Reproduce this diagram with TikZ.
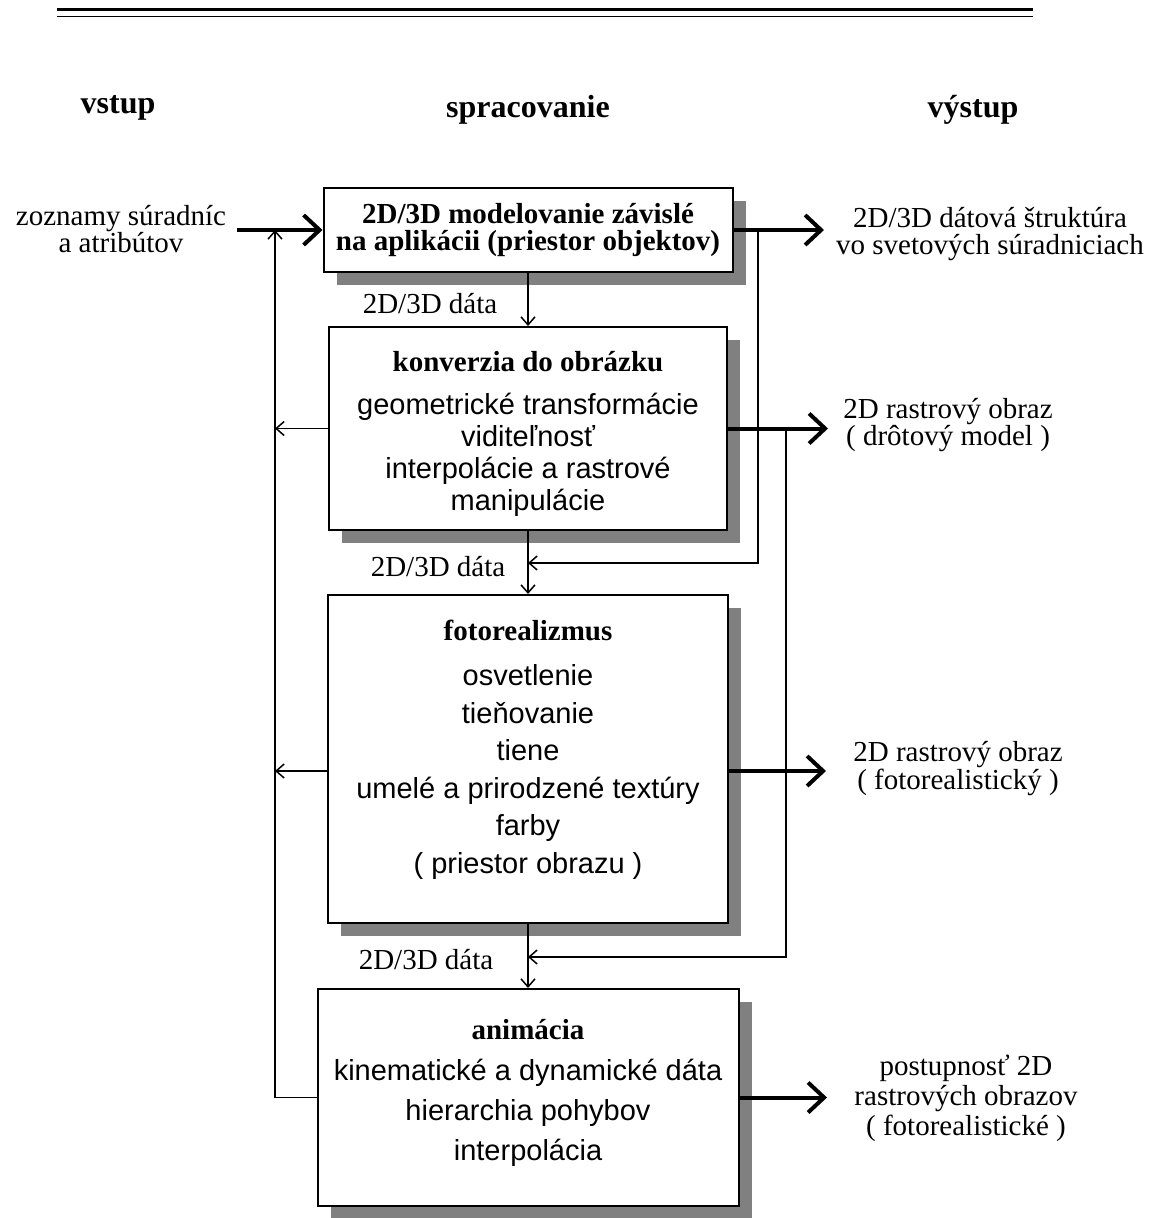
\documentclass[tikz,border=0pt]{standalone}
\usepackage{fontspec}
\setmainfont{Liberation Serif}
\setsansfont{Liberation Sans}
\usetikzlibrary{arrows.meta,shadows,calc}
\begin{document}
\begin{tikzpicture}[x=1pt,y=-1pt,
  box/.style={draw, line width=2pt, fill=white, inner sep=0pt,
    general shadow={fill=black!50, shadow xshift=13pt, shadow yshift=-13pt}},
  boxtitle/.style={font=\bfseries\fontsize{29}{27}\selectfont, inner sep=0pt, align=center},
  boxbody/.style={font=\sffamily\fontsize{29}{#1}\selectfont, inner sep=0pt, align=center},
  heading/.style={font=\bfseries\fontsize{32}{34}\selectfont, inner sep=0pt},
  txt/.style={font=\fontsize{29}{#1}\selectfont, inner sep=0pt, align=center},
  bigarrow/.style={line width=4pt, -{Straight Barb[length=16pt,width=30pt]}},
  smallarrow/.style={line width=1.5pt, -{Straight Barb[length=8pt,width=14pt]}}
]
\fill[white] (0,0) rectangle (1156,1218);
\useasboundingbox (0,0) rectangle (1156,1218);

% double rule across the top
\draw[line width=3pt] (57,9.5) -- (1033,9.5);
\draw[line width=1.5pt] (57,16.5) -- (1033,16.5);

% column headings
\node[heading] (hin) at (118,108) {vstup};
\node[heading] (hproc) at (528,110) {spracovanie};
\node[heading] (hout) at (973,110) {výstup};

% processing stages
\node[box, boxtitle, minimum width=409pt, minimum height=84pt] (box1) at (528,230)
  {2D/3D modelovanie závislé\\na aplikácii (priestor objektov)};

\node[box, minimum width=398pt, minimum height=203pt] (box2) at (528,428.5) {};
\node[boxtitle] (t2) at (528,362) {konverzia do obrázku};
\node[boxbody=32] (b2) at (528,455)
  {geometrické transformácie\\viditeľnosť\\interpolácie a rastrové\\manipulácie};

\node[box, minimum width=400pt, minimum height=328pt] (box3) at (528,759) {};
\node[boxtitle] (t3) at (528,630) {fotorealizmus};
\node[boxbody=37.6] (b3) at (528,772)
  {osvetlenie\\tieňovanie\\tiene\\umelé a prirodzené textúry\\farby\\( priestor obrazu )};

\node[box, minimum width=421pt, minimum height=217pt] (box4) at (528,1097.5) {};
\node[boxtitle] (t4) at (528,1030) {animácia};
\node[boxbody=40] (b4) at (528,1113)
  {kinematické a dynamické dáta\\hierarchia pohybov\\interpolácia};

% input and outputs
\node[txt=26] (inp) at (121,229) {zoznamy súradníc\\a atribútov};
\node[txt=27] (o1) at (990,234) {2D/3D dátová štruktúra\\vo svetových súradniciach};
\node[txt=27] (o2) at (948,425) {2D rastrový obraz\\( drôtový model )};
\node[txt=28] (o3) at (958,769) {2D rastrový obraz\\( fotorealistický )};
\node[txt=30] (o4) at (966,1098) {postupnosť 2D\\rastrových obrazov\\( fotorealistické )};

% data labels between stages
\node[txt=30] (d1) at (430,304) {2D/3D dáta};
\node[txt=30] (d2) at (438,567) {2D/3D dáta};
\node[txt=30] (d3) at (426,960) {2D/3D dáta};

% connector end points
\coordinate (inStart) at (237,230);
\coordinate (tip1) at (824,230);
\coordinate (tip2) at (828,428.5);
\coordinate (tip3) at (826,771);
\coordinate (tip4) at (827,1097.5);
\coordinate (j1) at (758,230);
\coordinate (j2) at (786,428.5);
\coordinate (m1) at (528,563);
\coordinate (m2) at (528,957);
\coordinate (back) at (275,230);

% main flow
\draw[bigarrow] (inStart) -- (box1.west);
\draw[bigarrow] (box1.east) -- (tip1);
\draw[bigarrow] (box2.east) -- (tip2);
\draw[bigarrow] (box3.east |- tip3) -- (tip3);
\draw[bigarrow] (box4.east) -- (tip4);
\draw[smallarrow] (box1.south) -- (box2.north);
\draw[smallarrow] (box2.south) -- (box3.north);
\draw[smallarrow] (box3.south) -- (box4.north);

% feedback paths
\draw[smallarrow] (j1) |- (m1);
\draw[smallarrow] (j2) |- (m2);
\draw[smallarrow] (box2.west) -- (box2.west -| back);
\draw[smallarrow] (box3.west |- tip3) -- (back |- tip3);
\draw[smallarrow] (box4.west) -| (back);
\end{tikzpicture}
\end{document}
